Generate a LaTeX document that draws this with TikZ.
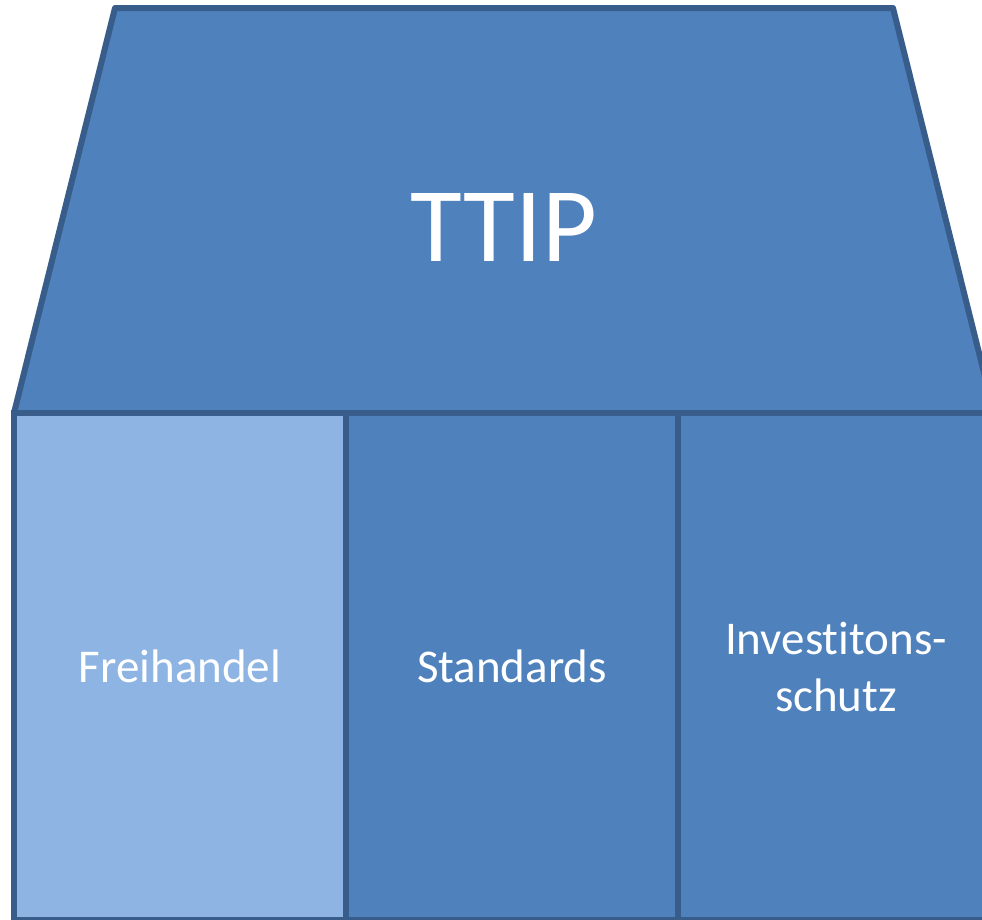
\documentclass[tikz,border=0pt]{standalone}
\usepackage{fontspec}
\setmainfont{Carlito}[Ligatures=NoCommon]
\usetikzlibrary{positioning}
\definecolor{roofblue}{HTML}{4F81BD}
\definecolor{edgeblue}{HTML}{385D8A}
\definecolor{paleblue}{HTML}{8EB4E3}
\tikzstyle{pillar} = [rectangle, minimum width=332pt, minimum height=507pt,
    inner sep=0pt, outer sep=0pt, draw=edgeblue, line width=6pt, fill=roofblue,
    text=white, align=center, font=\fontsize{47}{57}\selectfont]
\tikzstyle{roof} = [draw=edgeblue, line width=6pt, fill=roofblue, line join=round]

\begin{document}
\begin{tikzpicture}[x=1pt, y=-1pt]
                \clip (0,0) rectangle (982,919);

                % roof
                \coordinate (eaveL) at (14,413);
                \coordinate (eaveR) at (994,413);
                \draw [roof] (eaveL) -- (115,8) -- (893,8) -- (eaveR) -- cycle;
                \node (ttip) [anchor=base, text=white, font=\fontsize{106}{120}\selectfont] at (504,261) {TTIP};

                % pillars
                \node (freihandel) [pillar, fill=paleblue] at (180,666.5) {Freihandel};
                \node (standards) [pillar] at (512,666.5) {Standards};
                \node (schutz) [pillar, minimum width=316pt] at (836,666.5) {Investitons-\\schutz};
            \end{tikzpicture}
\end{document}
